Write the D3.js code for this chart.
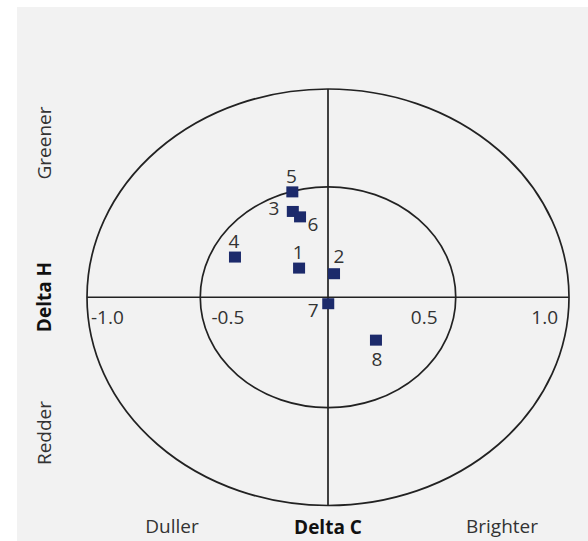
<!DOCTYPE html>
<html>
<head>
<meta charset="utf-8">
<script src="https://cdn.jsdelivr.net/npm/d3@7"></script>
<style>
  body { margin: 0; background: #ffffff; }
  svg { display: block; }
</style>
</head>
<body>
<svg id="chart" width="588" height="541"></svg>
<script>
// sample values (Delta C, Delta H)
var sampleIds = ['1', '2', '3', '4', '5', '6', '7', '8'];
var deltaC = [-0.120, 0.025, -0.146, -0.386, -0.148, -0.116, 0.001, 0.199];
var deltaH = [0.140, 0.113, 0.412, 0.193, 0.506, 0.386, -0.031, -0.206];
var labelSide = ['top', 'topright', 'left', 'top', 'top', 'bottomright', 'bottomleft', 'bottom'];
var ringRadii = [1.0, 0.53];
var tickValues = [-1.0, -0.5, 0.5, 1.0];
var tickLabels = ['-1.0', '-0.5', '0.5', '1.0'];

var svg = d3.select('#chart');
var font = "'Open Sans', 'DejaVu Sans', sans-serif";

// background panel
svg.append('rect')
   .attr('x', 17).attr('y', 7)
   .attr('width', 571).attr('height', 534)
   .attr('fill', '#f2f2f2');

var x = d3.scaleLinear().domain([-1, 1]).range([87, 569]);
var y = d3.scaleLinear().domain([-1, 1]).range([505.5, 89]);

var g = svg.append('g');

// rings
g.selectAll('ellipse')
  .data(ringRadii)
  .enter()
  .append('ellipse')
  .attr('cx', x(0))
  .attr('cy', y(0))
  .attr('rx', d => x(d) - x(0))
  .attr('ry', d => y(0) - y(d))
  .attr('fill', 'none')
  .attr('stroke', '#222')
  .attr('stroke-width', 1.7);

// axes through the centre
g.append('line')
  .attr('x1', x(-1)).attr('x2', x(1))
  .attr('y1', y(0)).attr('y2', y(0))
  .attr('stroke', '#222').attr('stroke-width', 1.7);
g.append('line')
  .attr('x1', x(0)).attr('x2', x(0))
  .attr('y1', y(1)).attr('y2', y(-1))
  .attr('stroke', '#222').attr('stroke-width', 1.7);

// tick labels just under the horizontal axis
g.selectAll('.tick')
  .data(tickValues)
  .enter()
  .append('text')
  .attr('class', 'tick')
  .attr('x', d => x(d) + (d < 0 ? 4 : -11))
  .attr('y', y(0) + 27)
  .attr('text-anchor', d => d < 0 ? 'start' : 'end')
  .attr('font-family', font)
  .attr('font-size', '19px')
  .attr('fill', '#333')
  .text((d, i) => tickLabels[i]);

var points = sampleIds.map((id, i) => ({ id: id, c: deltaC[i], h: deltaH[i], side: labelSide[i] }));

g.selectAll('.pt')
  .data(points)
  .enter()
  .append('rect')
  .attr('class', 'pt')
  .attr('x', d => x(d.c) - 6)
  .attr('y', d => y(d.h) - 5.5)
  .attr('width', 12)
  .attr('height', 11)
  .attr('fill', '#1c2a6b');

var offsets = {
  top: [-1, -9],
  topright: [5, -11],
  left: [-19, 4],
  bottomright: [13, 14],
  bottomleft: [-15, 13],
  bottom: [1, 26]
};

g.selectAll('.lbl')
  .data(points)
  .enter()
  .append('text')
  .attr('class', 'lbl')
  .attr('x', d => x(d.c) + offsets[d.side][0])
  .attr('y', d => y(d.h) + offsets[d.side][1])
  .attr('text-anchor', 'middle')
  .attr('font-family', font)
  .attr('font-size', '19px')
  .attr('fill', '#333')
  .text(d => d.id);

// side labels
function sideText(tx, ty, rot, txt, bold) {
  svg.append('text')
     .attr('transform', 'translate(' + tx + ',' + ty + ')' + (rot ? ' rotate(-90)' : ''))
     .attr('text-anchor', 'middle')
     .attr('font-family', font)
     .attr('font-size', '19px')
     .attr('font-weight', bold ? 700 : 400)
     .attr('fill', bold ? '#111' : '#333')
     .text(txt);
}
sideText(51, 143, true, 'Greener', false);
sideText(51, 297, true, 'Delta H', true);
sideText(51, 433, true, 'Redder', false);
sideText(172, 533, false, 'Duller', false);
sideText(328, 534, false, 'Delta C', true);
sideText(502, 533, false, 'Brighter', false);
</script>
</body>
</html>
